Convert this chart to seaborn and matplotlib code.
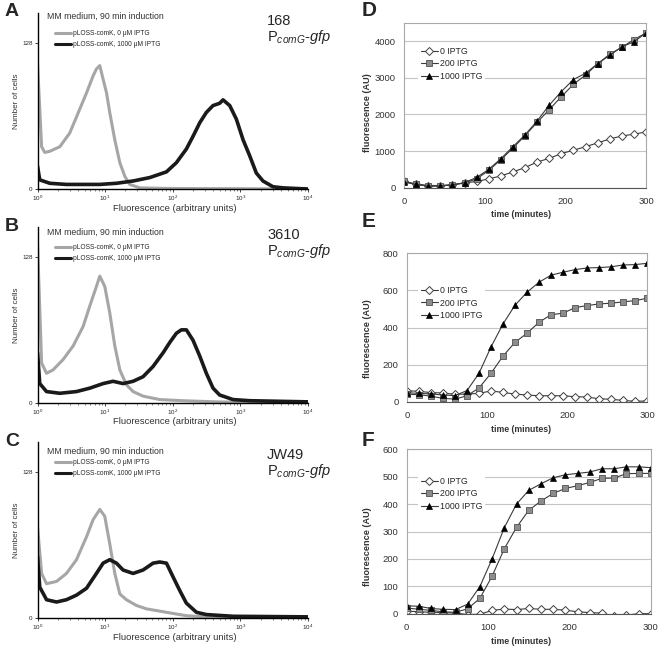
import numpy as np
import pandas as pd
import matplotlib
matplotlib.use("Agg")
import matplotlib.pyplot as plt
import seaborn as sns
from matplotlib.ticker import LogLocator, FixedLocator

# ---------------- data: flow cytometry histograms (A-C) ----------------
a_gray_x = [1.0, 1.15, 1.28, 1.52, 2.14, 3.0, 4.22, 5.3, 6.64, 7.44, 8.34, 9.34, 10.5, 11.7, 13.9, 16.5, 19.6, 23.1, 32.5, 80.7, 10000]
a_gray_y = [110, 37, 32, 33, 37, 49, 70, 84, 99, 105, 108, 96, 84, 67, 43, 23, 11, 4, 1, 0.5, 0]
a_black_x = [1.0, 1.08, 1.52, 2.68, 4.73, 8.34, 14.7, 25.9, 45.7, 80.7, 113, 159, 199, 251, 314, 394, 494, 554, 696, 874, 1097, 1375, 1720, 2160, 3030, 4240, 10000]
a_black_y = [20, 8, 5, 4, 4, 4, 5, 7, 10, 15, 23, 35, 46, 58, 67, 73, 75, 78, 73, 61, 43, 29, 14, 7, 2, 1, 0]

b_gray_x = [1.0, 1.15, 1.36, 1.70, 2.39, 3.37, 4.73, 5.94, 7.44, 8.34, 9.88, 11.7, 13.9, 16.5, 20.6, 25.9, 36.4, 64.3, 142, 441, 1375, 10000]
b_gray_y = [140, 35, 26, 29, 38, 50, 67, 85, 102, 111, 102, 79, 50, 29, 16, 10, 6, 3, 2, 1, 0.5, 0]
b_black_x = [1.0, 1.08, 1.36, 2.14, 3.77, 5.94, 9.34, 13.1, 18.4, 25.9, 36.4, 51.2, 72.1, 90.4, 113, 134, 159, 199, 251, 314, 394, 494, 780, 1375, 10000]
b_black_y = [44, 17, 10, 8.5, 10, 13, 17, 19, 17, 19, 23, 32, 44, 53, 61, 64, 64, 55, 41, 26, 13, 7, 3, 2, 1]

c_gray_x = [1.0, 1.15, 1.36, 1.91, 2.68, 3.77, 5.3, 6.64, 8.34, 9.88, 11.7, 13.9, 16.5, 20.6, 29.0, 40.8, 64.3, 101, 159, 314, 780, 10000]
c_gray_y = [80, 39, 30, 32, 39, 51, 71, 86, 95, 89, 65, 39, 21, 16, 11, 8, 6, 4, 2, 1, 0.3, 0]
c_black_x = [1.0, 1.08, 1.36, 1.91, 2.68, 3.77, 5.3, 7.44, 9.34, 11.7, 14.7, 18.4, 25.9, 36.4, 51.2, 64.3, 80.7, 101, 127, 159, 224, 314, 780, 10000]
c_black_y = [54, 27, 16, 14, 16, 20, 26, 39, 48, 51, 48, 42, 39, 42, 48, 49, 48, 36, 24, 13, 5, 3, 1.5, 1]

strains = ["168", "3610", "JW49"]
hist_labels = ["pLOSS-comK, 0 \u03bcM IPTG", "pLOSS-comK, 1000 \u03bcM IPTG"]

# ---------------- data: fluorescence time courses (D-F) ----------------
time_min = [0, 15, 30, 45, 60, 75, 90, 105, 120, 135, 150, 165, 180, 195, 210, 225, 240, 255, 270, 285, 300]
series_names = ["0 IPTG", "200 IPTG", "1000 IPTG"]

d_0 = [170, 100, 60, 60, 80, 130, 170, 240, 320, 430, 550, 700, 800, 930, 1020, 1120, 1220, 1330, 1410, 1460, 1520]
d_200 = [180, 90, 50, 50, 80, 130, 240, 470, 760, 1080, 1420, 1780, 2130, 2480, 2820, 3070, 3380, 3640, 3830, 4040, 4220]
d_1000 = [150, 90, 40, 50, 70, 140, 280, 500, 790, 1120, 1440, 1820, 2250, 2620, 2950, 3120, 3380, 3610, 3840, 3980, 4220]

e_0 = [59, 56, 49, 47, 40, 41, 45, 58, 50, 41, 36, 32, 32, 32, 27, 25, 16, 13, 7, 2, 4]
e_200 = [40, 38, 30, 18, 14, 32, 74, 153, 246, 320, 369, 428, 469, 477, 507, 518, 527, 531, 538, 545, 557]
e_1000 = [48, 45, 42, 36, 33, 60, 153, 295, 419, 520, 590, 644, 682, 698, 712, 721, 723, 727, 737, 739, 746]

f_0 = [10, 7, 5, 4, 2, -3, -2, 12, 17, 15, 19, 16, 16, 13, 7, 4, 2, -8, -5, 0, 0]
f_200 = [21, 16, 12, 7, 5, 18, 56, 137, 237, 315, 377, 411, 439, 457, 467, 479, 494, 495, 511, 512, 512]
f_1000 = [29, 27, 19, 16, 15, 35, 99, 200, 314, 400, 450, 474, 496, 507, 512, 517, 529, 529, 536, 536, 533]

# ---------------- style ----------------
sns.set_theme(style="ticks")
plt.rcParams['font.family'] = ['Liberation Sans', 'DejaVu Sans']
plt.rcParams['mathtext.fontset'] = 'custom'
plt.rcParams['mathtext.rm'] = 'Liberation Sans'
plt.rcParams['mathtext.it'] = 'Liberation Sans:italic'

W, H = 661, 650
fig = plt.figure(figsize=(W / 100, H / 100), dpi=100)


def px_axes(left, top, right, bottom):
    return fig.add_axes([left / W, 1 - bottom / H, (right - left) / W, (bottom - top) / H])


def px_text(x, y, s, **kw):
    kw.setdefault("va", "center")
    fig.text(x / W, 1 - y / H, s, **kw)


# ---------------- left column: histograms ----------------
hist_sets = [
    (a_gray_x, a_gray_y, a_black_x, a_black_y),
    (b_gray_x, b_gray_y, b_black_x, b_black_y),
    (c_gray_x, c_gray_y, c_black_x, c_black_y),
]
hist_boxes = [(37.5, 13, 308, 189), (37.5, 227, 308, 403), (37.5, 442, 308, 618)]
hist_letters = ["A", "B", "C"]

for i, (gx, gy, bx, by) in enumerate(hist_sets):
    left, top, right, bottom = hist_boxes[i]
    ax = px_axes(left, top, right, bottom)
    sns.lineplot(x=gx, y=gy, ax=ax, color="#a6a6a6", lw=2.2, label=hist_labels[0], sort=False)
    sns.lineplot(x=bx, y=by, ax=ax, color="#1a1a1a", lw=2.6, label=hist_labels[1], sort=False)
    ax.set_xscale("log")
    ax.set_xlim(1, 10000)
    ax.set_ylim(0, 154)
    ax.yaxis.set_major_locator(FixedLocator([0, 128]))
    ax.xaxis.set_major_locator(LogLocator(base=10, numticks=6))
    ax.xaxis.set_minor_locator(LogLocator(base=10, subs=np.arange(2, 10), numticks=12))
    ax.tick_params(axis="both", which="major", labelsize=4.5, length=2, width=0.6, pad=1.5)
    ax.tick_params(axis="x", which="minor", length=1.2, width=0.4)
    sns.despine(ax=ax)
    for sp in ["left", "bottom"]:
        ax.spines[sp].set_linewidth(1.0)
        ax.spines[sp].set_color("black")
    ax.set_xlabel("")
    ax.set_ylabel("")
    leg = ax.legend(loc="upper left", bbox_to_anchor=(52 / W, 1 - (top + 14) / H),
                    bbox_transform=fig.transFigure, frameon=False, fontsize=4.8,
                    handlelength=2.4, handletextpad=0.3, labelspacing=0.55, borderpad=0)
    for line in leg.get_lines():
        line.set_linewidth(2.2)

    px_text(5, top - 1 if i else 12, hist_letters[i], fontsize=14, fontweight="bold", ha="left")
    px_text(47, top + 3 if i == 0 else top + 5 + (4 if i == 2 else 0), "MM medium, 90 min induction",
            fontsize=6.3, ha="left", color="#333333")
    px_text(17, (top + bottom) / 2, "Number of cells", fontsize=5.8, rotation=90, ha="center", color="#333333")
    px_text((left + right) / 2 + 2, bottom + 19, "Fluorescence (arbitrary units)", fontsize=6.8,
            ha="center", color="#333333")
    px_text(267, top + 8 + (0 if i != 2 else 5), strains[i], fontsize=10.5, ha="left")
    px_text(267, top + 24 + (0 if i != 2 else 5), r"P$_{\mathit{comG}}$-$\mathit{gfp}$", fontsize=10.5, ha="left")

# ---------------- right column: time courses ----------------
curve_sets = [(d_0, d_200, d_1000), (e_0, e_200, e_1000), (f_0, f_200, f_1000)]
curve_boxes = [(404, 22.7, 646, 187.7), (407, 253.3, 647, 401.7), (406.7, 449.3, 650.7, 613.7)]
curve_ylims = [(4500, [0, 1000, 2000, 3000, 4000]),
               (800, [0, 200, 400, 600, 800]),
               (600, [0, 100, 200, 300, 400, 500, 600])]
curve_letters = ["D", "E", "F"]
letter_y = [11, 221, 441]
ylabel_y = [113, 339, 547]
xlabel_y = [215, 429, 641]
legend_top = [40, 279, 470]
marker_styles = [
    dict(marker="D", markersize=3.8, markerfacecolor="white", markeredgecolor="#404040", markeredgewidth=0.7),
    dict(marker="s", markersize=4.6, markerfacecolor="#8c8c8c", markeredgecolor="#505050", markeredgewidth=0.6),
    dict(marker="^", markersize=4.8, markerfacecolor="black", markeredgecolor="black", markeredgewidth=0.5),
]

for i, vals in enumerate(curve_sets):
    left, top, right, bottom = curve_boxes[i]
    ax = px_axes(left, top, right, bottom)
    ymax, yt = curve_ylims[i]
    ax.set_xlim(0, 300)
    ax.set_ylim(0, ymax)
    ax.yaxis.set_major_locator(FixedLocator(yt))
    ax.xaxis.set_major_locator(FixedLocator([0, 100, 200, 300]))
    ax.grid(axis="y", color="#c4c4c4", lw=0.8)
    ax.set_axisbelow(True)
    for j, v in enumerate(vals):
        df = pd.DataFrame({"time": time_min, "fluor": v})
        sns.lineplot(data=df, x="time", y="fluor", ax=ax, color="#3a3a3a", lw=0.8,
                     label=series_names[j], clip_on=True, **marker_styles[j])
    for sp in ax.spines.values():
        sp.set_color("#a8a8a8")
        sp.set_linewidth(0.8)
    ax.spines["bottom"].set_color("#555555")
    ax.tick_params(axis="both", labelsize=6.8, length=0, pad=6, colors="#333333")
    ax.tick_params(axis="x", pad=7)
    ax.set_xlabel("")
    ax.set_ylabel("")
    ax.legend(loc="upper left", bbox_to_anchor=(414 / W, 1 - legend_top[i] / H),
              bbox_transform=fig.transFigure, fontsize=6.3, frameon=True, fancybox=False,
              facecolor="white", edgecolor="none", framealpha=1, handlelength=2.0,
              handletextpad=0.2, labelspacing=0.45, borderpad=0.25)

    px_text(362, letter_y[i], curve_letters[i], fontsize=15, fontweight="bold", ha="left")
    px_text(368, ylabel_y[i], "fluorescence (AU)", fontsize=6.6, fontweight="bold", rotation=90,
            ha="center", color="#333333")
    px_text(521, xlabel_y[i], "time (minutes)", fontsize=6.3, fontweight="bold", ha="center", color="#333333")

fig.savefig("out.png", dpi=100)
